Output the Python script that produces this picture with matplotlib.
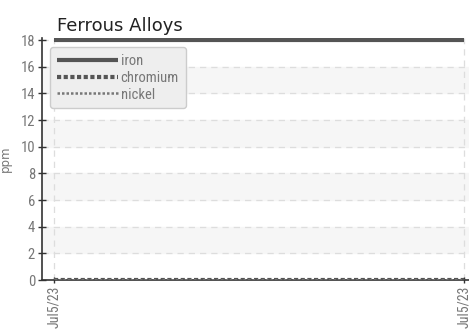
import matplotlib.pyplot as plt
import matplotlib.font_manager as fm

# data
dates = ['Jul5/23', 'Jul5/23']
iron = [18, 18]
chromium = [0, 0]
nickel = [0, 0]
y_ticks = list(range(0, 19, 2))

names = {f.name for f in fm.fontManager.ttflist}
tick_font = 'DejaVu Sans'
for cand in ['Roboto Condensed', 'Liberation Sans Narrow', 'Open Sans Condensed']:
    if cand in names:
        tick_font = cand
        break

fig = plt.figure(figsize=(4.69, 3.32), dpi=100)
ax = fig.add_axes([42 / 469, 1 - 280 / 332, 427 / 469, 242 / 332])

x = list(range(len(dates)))

# alternating bands
for lo in range(2, 18, 4):
    ax.axhspan(lo, lo + 2, color='#f6f6f6', zorder=0)

ax.plot(x, iron, color='#555555', lw=3, label='iron', zorder=3, solid_capstyle='butt')
ax.plot(x, chromium, color='#555555', lw=3, ls=(0, (1, 0.6)), label='chromium', zorder=3)
ax.plot(x, nickel, color='#777777', lw=1.8, ls=(0, (1, 0.8)), label='nickel', zorder=3)

ax.set_xlim(-12 / 410, 1 + 5 / 410)
ax.set_ylim(0, 18.15)
ax.set_yticks(y_ticks)
ax.set_xticks(x)
ax.set_xticklabels(dates, rotation=90)

ax.grid(True, color='#dddddd', ls=(0, (5, 4)), lw=0.9)
ax.set_axisbelow(True)

for s in ['top', 'right']:
    ax.spines[s].set_visible(False)
ax.spines['left'].set_color('#333333')
ax.spines['bottom'].set_color('#333333')
ax.spines['left'].set_linewidth(1.2)
ax.spines['bottom'].set_linewidth(1.2)

ax.tick_params(axis='y', direction='inout', length=6, width=1, colors='#333333',
               labelcolor='#777777', labelsize=10.5, pad=2)
ax.tick_params(axis='x', direction='inout', length=4, width=1, colors='#333333',
               labelcolor='#777777', labelsize=10, pad=2)
for lab in ax.get_xticklabels() + ax.get_yticklabels():
    lab.set_fontfamily(tick_font)
    lab.set_fontstretch('condensed')

ax.set_ylabel('ppm', color='#777777', fontsize=8.5, labelpad=6)
ax.set_title('Ferrous Alloys', loc='left', fontsize=13, color='#222222', pad=5,
             x=15 / 427)

leg = ax.legend(loc='upper left', bbox_to_anchor=(8 / 427, 0.962), borderaxespad=0,
                handlelength=4.2, handletextpad=0.2, labelspacing=0.2, borderpad=0.45,
                fancybox=True, framealpha=1, facecolor='#eeeeee', edgecolor='#cccccc',
                prop={'family': tick_font, 'size': 10.5, 'stretch': 'condensed'})
for t in leg.get_texts():
    t.set_color('#777777')

fig.savefig('out.png', dpi=100)
